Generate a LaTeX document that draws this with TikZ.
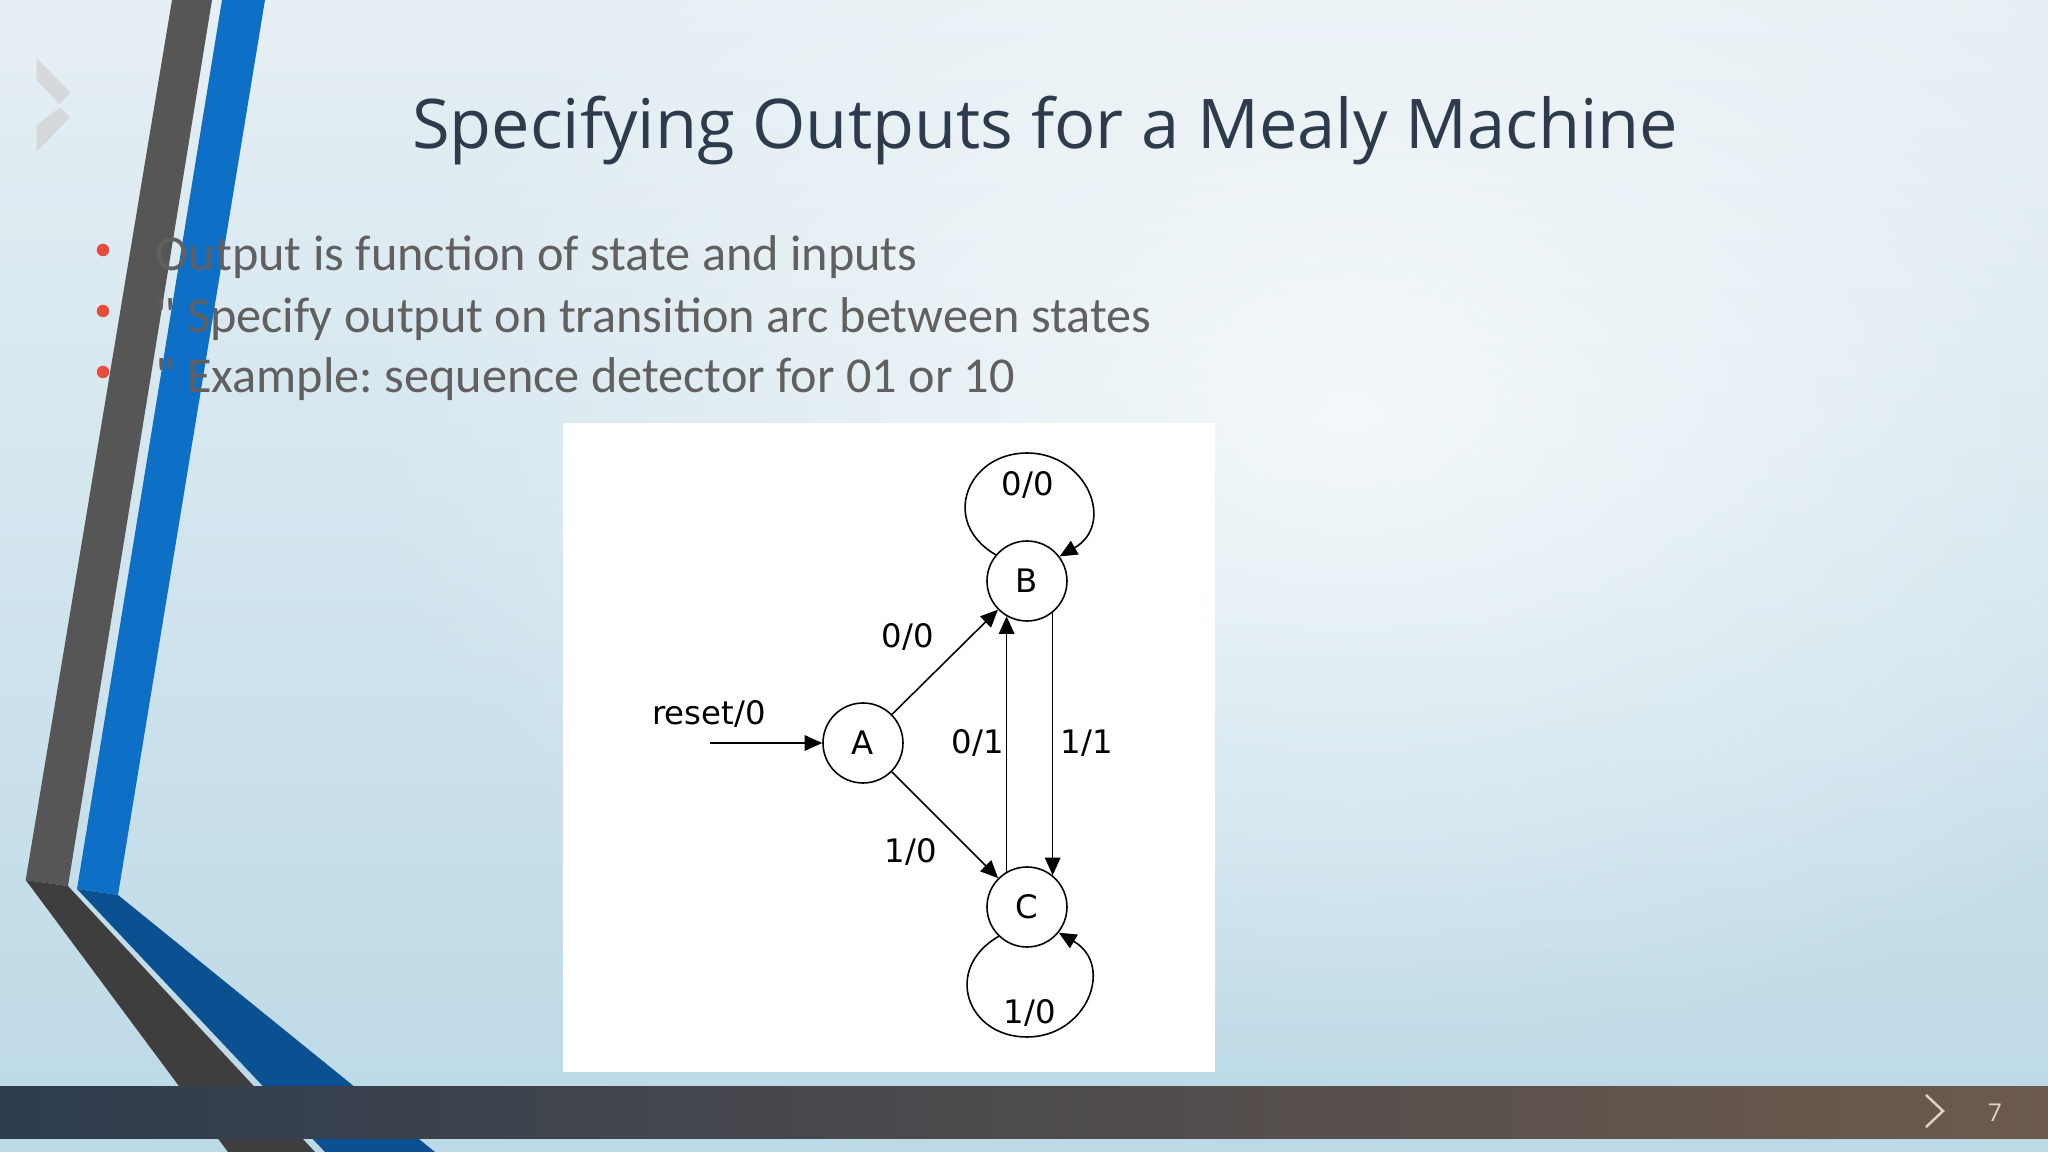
\documentclass[tikz,border=0pt]{standalone}
\usepackage{fontspec}
\usepackage{tikz}
\usetikzlibrary{positioning, calc}
\usetikzlibrary{arrows.meta}
\usetikzlibrary{fadings}
\newfontfamily\titlefont{Open Sans}
\newfontfamily\bodyfont{Carlito}
\newfontfamily\fsmfont{DejaVu Sans}
\definecolor{bgtop}{HTML}{E6EFF4}
\definecolor{bgbot}{HTML}{BCD9E6}
\definecolor{titleblue}{HTML}{2E3B4C}
\definecolor{bodygray}{HTML}{606060}
\definecolor{bulletred}{HTML}{E84C3D}
\definecolor{stripegray}{HTML}{565656}
\definecolor{stripegraydk}{HTML}{3E3E3E}
\definecolor{stripeblue}{HTML}{0E6FC7}
\definecolor{stripebluedk}{HTML}{0B5192}
\definecolor{barleft}{HTML}{2E3C4E}
\definecolor{barright}{HTML}{6D5A4C}
\definecolor{logogray}{HTML}{D5D9DC}
\definecolor{pglight}{HTML}{DDD2C6}
\tikzfading[name=glowfade, inner color=transparent!0, outer color=transparent!100]

\begin{document}
\begin{tikzpicture}[draw=black!100]
	\def \rowtitle{-1.49}
	\def \rowone{-2.71}
	\def \rowtwo{-3.32}
	\def \rowthree{-3.93}
	\def \colbody{1.55}
	\tikzstyle{title-text}=[anchor=base,inner sep=0pt,text=titleblue,font=\titlefont\fontsize{19.5}{23}\selectfont]
	\tikzstyle{bl-text}=[anchor=base west,inner sep=0pt,text=bodygray,font=\bodyfont\fontsize{14.3}{17}\selectfont\frenchspacing]
	\tikzstyle{bl-dot}=[circle,fill=bulletred,inner sep=0pt,minimum size=1.25mm]
	\tikzstyle{st-node}=[circle,draw=black!100,line width=0.45pt,inner sep=0pt,minimum size=8mm,font=\fsmfont\fontsize{9.2}{11}\selectfont]
	\tikzstyle{tr-lbl}=[inner sep=0pt,font=\fsmfont\fontsize{9.2}{11}\selectfont]
	\tikzstyle{tr-edge}=[draw=black!100,line width=0.45pt,-{Triangle[length=5pt,width=4.4pt]}]
	\tikzstyle{pg-chev}=[draw=pglight,line width=0.7pt]

	\useasboundingbox (0,0) rectangle (20.48,-11.52);
	\clip (0,0) rectangle (20.48,-11.52);

	% background
	\shade[top color=bgtop,bottom color=bgbot] (0,0) rectangle (20.48,-11.52);
	\fill[white,opacity=0.7,path fading=glowfade] (13.5,-4.2) ellipse (10 and 6.5);

	% stripes
	\fill[stripegray] (1.72,0) -- (2.12,0) -- (0.68,-8.86) -- (0.257,-8.80) -- cycle;
	\fill[stripeblue] (2.22,0) -- (2.65,0) -- (1.18,-8.95) -- (0.77,-8.89) -- cycle;
	\fill[stripegraydk] (0.257,-8.80) -- (0.68,-8.86) -- (3.15,-11.52) -- (2.28,-11.52) -- cycle;
	\fill[stripebluedk] (0.77,-8.89) -- (1.18,-8.95) -- (4.35,-11.52) -- (3.25,-11.52) -- cycle;

	% logo
	\fill[logogray] (0.367,-0.583) -- (0.707,-0.927) -- (0.593,-1.04) -- (0.367,-0.80) -- cycle;
	\fill[logogray] (0.367,-1.25) -- (0.60,-1.073) -- (0.70,-1.173) -- (0.367,-1.517) -- cycle;

	% footer
	\shade[left color=barleft,right color=barright] (0,-10.86) rectangle (20.48,-11.38);
	\draw[pg-chev] (19.26,-10.95) -- (19.43,-11.11) -- (19.26,-11.27);
	\node[text=pglight,font=\titlefont\fontsize{7}{8}\selectfont] (pgnum) at (19.95,-11.13) {7};

	% title and bullets
	\node[title-text] (title) at (10.45,\rowtitle) {Specifying Outputs for a Mealy Machine};
	\node[bl-dot] (dot1) at (1.03,-2.50) {};
	\node[bl-dot] (dot2) at (1.03,-3.11) {};
	\node[bl-dot] (dot3) at (1.03,-3.72) {};
	\node[bl-text] (line1) at (\colbody,\rowone) {Output is function of state and inputs};
	\node[bl-text] (line2) at (\colbody,\rowtwo) {" Specify output on transition arc between states};
	\node[bl-text] (line3) at (\colbody,\rowthree) {" Example: sequence detector for 01 or 10};

	% picture of the machine
	\fill[white] (5.63,-4.23) rectangle (12.15,-10.72);

	% states
	\node[st-node] (A) at (8.63,-7.43) {A};
	\node[st-node] (B) at (10.27,-5.81) {B};
	\node[st-node] (C) at (10.27,-9.07) {C};
	\coordinate (init) at (7.10,-7.43);
	\coordinate (b-top) at (10.27,-4.53);
	\coordinate (c-bot) at (10.27,-10.37);

	% labels
	\node[tr-lbl] (l-reset) at (7.09,-7.14) {reset/0};
	\node[tr-lbl] (l-bb) at (10.28,-4.85) {0/0};
	\node[tr-lbl] (l-ab) at (9.08,-6.37) {0/0};
	\node[tr-lbl] (l-ac) at (9.11,-8.52) {1/0};
	\node[tr-lbl] (l-cb) at (9.78,-7.43) {0/1};
	\node[tr-lbl] (l-bc) at (10.87,-7.43) {1/1};
	\node[tr-lbl] (l-cc) at (10.30,-10.13) {1/0};

	\path (init) edge[tr-edge] (A)
		(A) edge[tr-edge] (B)
		(A) edge[tr-edge] (C)
		(C.120) edge[tr-edge] (B.240)
		(B.-51) edge[tr-edge] (C.51);
	\draw[tr-edge] (B.140) .. controls +(150:0.65) and +(-0.6,0) .. (b-top)
		.. controls +(0.6,0) and +(30:0.65) .. (B.37);
	\draw[tr-edge] (C.226) .. controls +(210:0.65) and +(-0.6,0) .. (c-bot)
		.. controls +(0.6,0) and +(-30:0.65) .. (C.-39);
\end{tikzpicture}
\end{document}
